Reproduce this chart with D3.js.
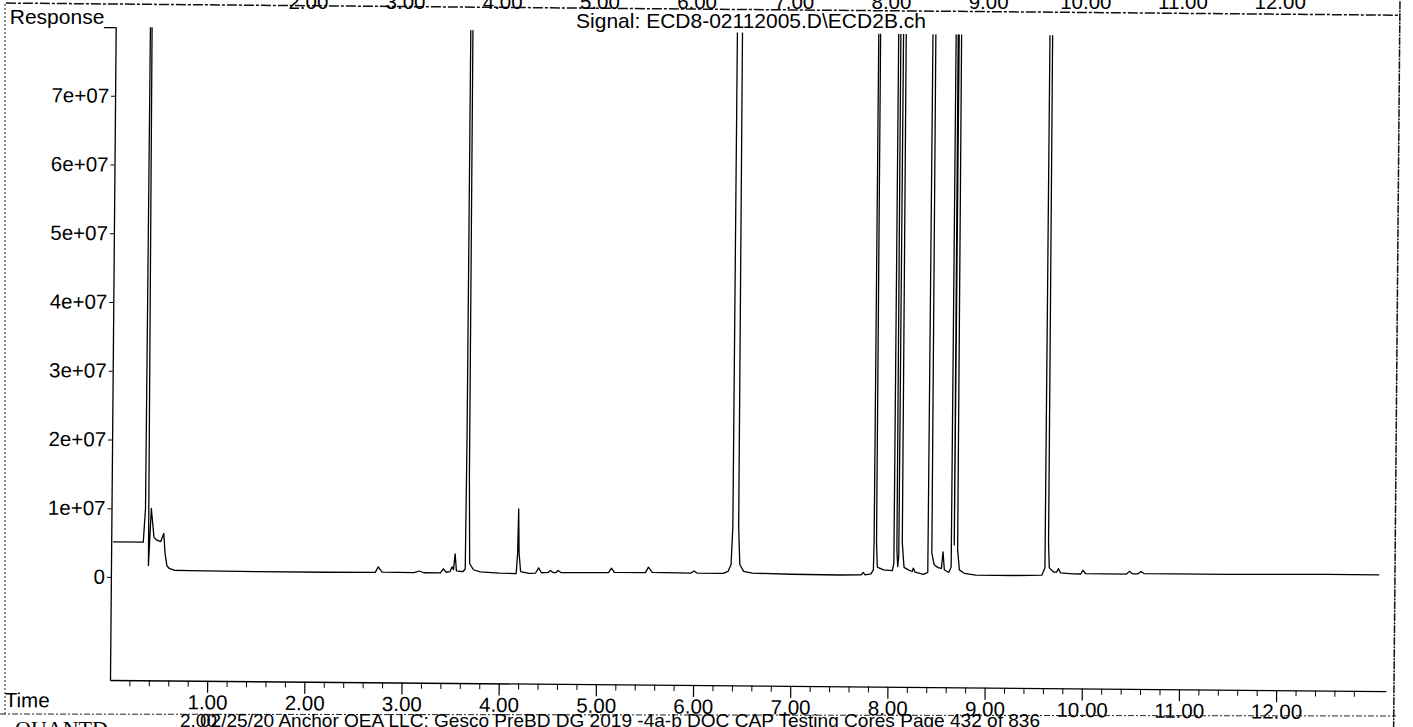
<!DOCTYPE html>
<html>
<head>
<meta charset="utf-8">
<script src="https://cdn.jsdelivr.net/npm/d3@7"></script>
<style>
  body { margin: 0; background: #fff; overflow: hidden; }
  svg { display: block; font-family: "Liberation Sans", Arial, sans-serif; }
</style>
</head>
<body>
<svg id="chart" width="1413" height="727"></svg>
<script>

// Trace: retention time (min) and detector response
const traceTime = [
  0.02, 0.33, 0.35, 0.365, 0.385, 0.41, 0.44, 0.47, 0.51, 0.54, 0.555, 0.575, 0.60, 0.65, 0.80,
  1.50, 2.20, 2.72, 2.75, 2.79, 3.12, 3.17, 3.22, 3.39, 3.42, 3.45, 3.49, 3.51, 3.525, 3.54, 3.555,
  3.62, 3.645, 3.652, 3.657, 3.672, 3.68, 3.69, 3.73, 3.80, 4.00, 4.17, 4.183, 4.19, 4.198, 4.215,
  4.30, 4.37, 4.40, 4.43, 4.50, 4.52, 4.55, 4.58, 4.60, 4.63, 5.12, 5.15, 5.18, 5.50, 5.53, 5.57,
  5.97, 6.00, 6.03, 6.30, 6.35, 6.38, 6.395, 6.40, 6.445, 6.455, 6.47, 6.51, 6.60, 7.00, 7.50,
  7.72, 7.74, 7.76, 7.82, 7.845, 7.85, 7.855, 7.868, 7.875, 7.885, 7.95, 8.04, 8.055, 8.06, 8.075,
  8.085, 8.095, 8.105, 8.11, 8.13, 8.14, 8.16, 8.21, 8.245, 8.255, 8.275, 8.36, 8.405, 8.415, 8.435,
  8.445, 8.47, 8.51, 8.545, 8.56, 8.575, 8.62, 8.645, 8.652, 8.665, 8.675, 8.685, 8.70, 8.71, 8.73,
  8.78, 8.90, 9.30, 9.58, 9.61, 9.618, 9.638, 9.645, 9.655, 9.70, 9.73, 9.75, 9.77, 9.90, 9.98,
  10.00, 10.03, 10.45, 10.48, 10.51, 10.57, 10.60, 10.63, 11.50, 12.50, 13.05
];
const traceResp = [
  5.1e6, 5.1e6, 1.0e7, 1.5e8, 1.7e6, 1.0e7, 5.8e6, 5.4e6, 5.2e6, 6.4e6, 3.5e6, 1.7e6, 1.3e6, 1.05e6, 1.0e6,
  0.95e6, 0.95e6, 1.0e6, 1.8e6, 1.05e6, 1.0e6, 1.25e6, 1.0e6, 1.0e6, 1.6e6, 1.1e6, 1.2e6, 1.9e6, 1.5e6, 3.8e6, 1.3e6,
  1.2e6, 1.6e6, 2.0e7, 1.5e8, 1.5e8, 1.5e7, 2.4e6, 1.5e6, 1.2e6, 1.05e6, 1.0e6, 4.0e6, 1.04e7, 4.0e6, 1.3e6,
  1.05e6, 1.1e6, 1.85e6, 1.15e6, 1.2e6, 1.5e6, 1.2e6, 1.2e6, 1.5e6, 1.2e6, 1.25e6, 1.9e6, 1.3e6, 1.3e6, 2.1e6, 1.35e6,
  1.3e6, 1.6e6, 1.3e6, 1.3e6, 1.6e6, 2.6e6, 8.0e6, 1.5e8, 1.5e8, 8.0e6, 2.6e6, 1.6e6, 1.35e6, 1.25e6, 1.2e6,
  1.25e6, 1.6e6, 1.25e6, 1.4e6, 2.0e6, 6.0e6, 1.5e8, 1.5e8, 6.0e6, 2.4e6, 2.0e6, 1.9e6, 3.0e6, 1.5e8, 1.5e8,
  5.0e6, 2.5e6, 4.0e6, 1.5e8, 1.5e8, 6.0e6, 2.4e6, 2.0e6, 1.8e6, 2.3e6, 1.7e6, 1.4e6, 1.7e6, 1.5e8, 1.5e8,
  4.5e6, 2.8e6, 2.4e6, 2.3e6, 4.7e6, 2.1e6, 1.7e6, 2.5e6, 1.5e8, 1.5e8, 5.7e6, 1.5e8, 1.5e8, 5.0e6, 2.1e6,
  1.6e6, 1.35e6, 1.35e6, 1.45e6, 2.5e6, 1.5e8, 1.5e8, 6.0e6, 2.5e6, 1.9e6, 1.9e6, 2.4e6, 1.8e6, 1.65e6, 1.65e6,
  2.2e6, 1.7e6, 1.7e6, 2.1e6, 1.75e6, 1.75e6, 2.1e6, 1.8e6, 1.8e6, 1.9e6, 1.9e6
];

const yTicks = [0, 1e7, 2e7, 3e7, 4e7, 5e7, 6e7, 7e7];
const yTickLabels = ["0", "1e+07", "2e+07", "3e+07", "4e+07", "5e+07", "6e+07", "7e+07"];
const xTicks = [1, 2, 3, 4, 5, 6, 7, 8, 9, 10, 11, 12];
const topStripTicks = [2, 3, 4, 5, 6, 7, 8, 9, 10, 11, 12];

const titleText = "Signal: ECD8-02112005.D\\ECD2B.ch";
const footerText = "02/25/20 Anchor QEA LLC; Gesco PreBD DG 2019 -4a-b DOC CAP Testing Cores Page 432 of 836";

const plot = { left: 110, right: 1386, top: 27, bottom: 680 };
const fontSize = "20.5px";

const svg = d3.select("#chart");

const xScale = d3.scaleLinear()
  .domain([0, 13.13])
  .range([plot.left, plot.right]);

const yScale = d3.scaleLinear()
  .domain([-1.5e7, 8e7])
  .range([plot.bottom, plot.top]);

// the scanned page sits slightly rotated
const page = svg.append("g")
  .attr("transform", `rotate(0.5, ${plot.left}, ${plot.bottom})`);

// frame pieces of the scanned page
svg.append("line")
  .attr("x1", 5).attr("x2", 5)
  .attr("y1", 4).attr("y2", 714)
  .attr("stroke", "#222")
  .attr("stroke-width", 1)
  .attr("stroke-dasharray", "2,2");

svg.append("line")
  .attr("x1", 0).attr("x2", 1396)
  .attr("y1", 714).attr("y2", 716)
  .attr("stroke", "#222")
  .attr("stroke-width", 1)
  .attr("stroke-dasharray", "6,2,2,2");

page.append("line")
  .attr("x1", 0).attr("x2", 1394)
  .attr("y1", 4).attr("y2", 4)
  .attr("stroke", "#111")
  .attr("stroke-width", 1.5)
  .attr("stroke-dasharray", "10,2,3,2");

page.append("line")
  .attr("x1", 1394).attr("x2", 1394)
  .attr("y1", -10).attr("y2", 760)
  .attr("stroke", "#111")
  .attr("stroke-width", 1.5)
  .attr("stroke-dasharray", "8,1,2,1");

// cut-off time labels of the page above
svg.append("g")
  .selectAll("text")
  .data(topStripTicks)
  .join("text")
    .attr("x", d => xScale(d) + 4)
    .attr("y", 9)
    .attr("text-anchor", "middle")
    .style("font-size", fontSize)
    .text(d => d3.format(".2f")(d));

// chromatogram trace
page.append("clipPath")
  .attr("id", "plot-clip")
  .append("rect")
    .attr("x", plot.left)
    .attr("y", plot.top)
    .attr("width", plot.right - plot.left)
    .attr("height", plot.bottom - plot.top);

const line = d3.line()
  .x(d => xScale(d[0]))
  .y(d => yScale(d[1]));

page.append("path")
  .datum(d3.zip(traceTime, traceResp))
  .attr("clip-path", "url(#plot-clip)")
  .attr("fill", "none")
  .attr("stroke", "#000")
  .attr("stroke-width", 1.3)
  .attr("stroke-linejoin", "round")
  .attr("d", line);

// axes
const minorTicks = d3.range(1, 66).map(i => +(i * 0.2).toFixed(1)).filter(t => !Number.isInteger(t) && t <= 13.1);

page.append("g")
  .attr("transform", `translate(0, ${plot.bottom})`)
  .call(d3.axisBottom(xScale).tickValues(minorTicks).tickSize(6).tickSizeOuter(0).tickFormat(""))
  .call(g => g.select(".domain").attr("stroke-width", 1.3));

const xAxis = page.append("g")
  .attr("transform", `translate(0, ${plot.bottom})`)
  .call(d3.axisBottom(xScale).tickValues(xTicks).tickSize(12).tickSizeOuter(0).tickPadding(2).tickFormat(d3.format(".2f")));

xAxis.select(".domain").remove();
xAxis.selectAll("line").attr("stroke-width", 1.2);
xAxis.selectAll("text")
  .style("font-size", fontSize)
  .attr("fill", "#000");

const yAxis = page.append("g")
  .attr("transform", `translate(${plot.left}, 0)`)
  .call(d3.axisLeft(yScale).tickValues(yTicks).tickSize(4).tickSizeOuter(0).tickPadding(2)
    .tickFormat((d, i) => yTickLabels[i]));

yAxis.select(".domain").attr("stroke-width", 1.3);
yAxis.selectAll("text")
  .style("font-size", fontSize)
  .attr("fill", "#000");

page.append("text")
  .attr("x", 5)
  .attr("y", 708)
  .style("font-size", fontSize)
  .text("Time");

// titles
svg.append("text")
  .attr("x", 116)
  .attr("y", 24)
  .attr("text-anchor", "end")
  .style("font-size", "21px")
  .text("Response_");

svg.append("text")
  .attr("x", 751)
  .attr("y", 28)
  .attr("text-anchor", "middle")
  .style("font-size", "21px")
  .text(titleText);

// footer, cut by the page edge
svg.append("text")
  .attr("x", 15)
  .attr("y", 736)
  .attr("font-family", "'Liberation Serif', serif")
  .style("font-size", "22px")
  .text("QUANTD");

svg.append("text")
  .attr("x", 180)
  .attr("y", 727)
  .style("font-size", "19px")
  .text("2.00");

svg.append("text")
  .attr("x", 200)
  .attr("y", 727)
  .attr("textLength", 840)
  .attr("lengthAdjust", "spacingAndGlyphs")
  .style("font-size", "19px")
  .text(footerText);

</script>
</body>
</html>
